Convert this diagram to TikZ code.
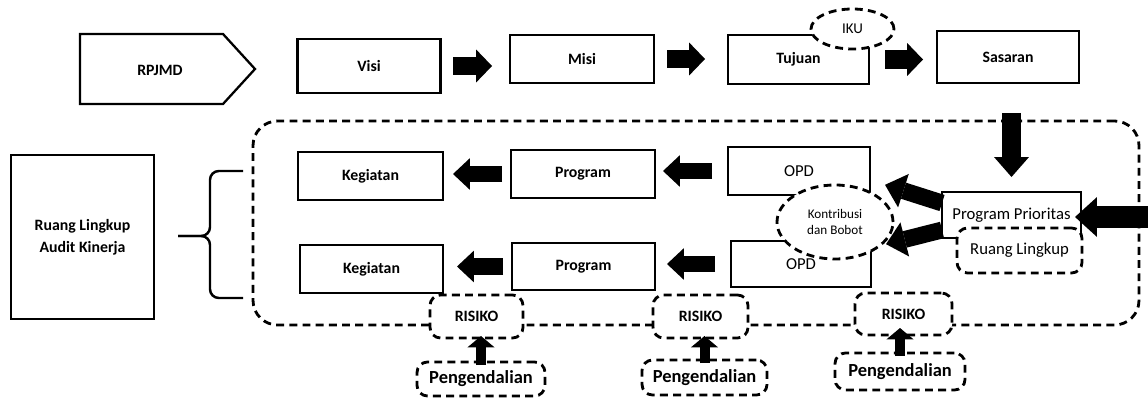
\documentclass[tikz,border=0pt]{standalone}
\usepackage{fontspec}
\setmainfont{Carlito}
\usetikzlibrary{arrows.meta,shapes.geometric}
\begin{document}
\begin{tikzpicture}[x=0.02cm,y=-0.02cm,
  every node/.style={inner sep=1pt, outer sep=0pt, align=center, font=\fontsize{9.5}{11}\selectfont},
  bf/.style={font=\fontsize{9}{10}\selectfont\bfseries},
  box/.style={draw, line width=1.3pt, fill=white},
  dashline/.style={line width=1.6pt, dash pattern=on 4.5pt off 3pt},
  dbox/.style={draw, dashline, fill=white, rounded corners=6pt},
  dell/.style={ellipse, draw, dashline, fill=white},
  wh/.style 2 args={minimum width=#1*0.02cm, minimum height=#2*0.02cm},
  barrow/.style n args={3}{line width=#1, -{Triangle[width=#2,length=#3,line width=0pt]}},
  harrow/.style={barrow={10.8pt}{18.7pt}{9pt}},
  marrow/.style={barrow={9.2pt}{18pt}{9.6pt}},
  darrow/.style={barrow={9.6pt}{20pt}{11pt}},
  vdarrow/.style={barrow={11.3pt}{19.8pt}{11.3pt}},
  rarrow/.style={barrow={12.5pt}{22.7pt}{12.5pt}},
  uarrow/.style={barrow={5.7pt}{15.5pt}{6.5pt}},
  pengf/.style={font=\fontsize{10.5}{12}\selectfont\bfseries},
]
\fill[white] (0,0) rectangle (1148,398);
\useasboundingbox (0,0) rectangle (1148,398);

% container
\node[draw, dashline, rounded corners=14pt, wh={886}{204}] (area) at (696,223) {};

% top row
\draw[line width=1.3pt] (80,34) -- (223,34) -- (255,69) -- (223,104) -- (80,104) -- cycle;
\node[bf] (rpjmd) at (160,70) {RPJMD};
\node[box,bf,wh={143}{54}] (visi) at (369,66) {Visi};
\node[box,bf,wh={144}{48}] (misi) at (582,59) {Misi};
\node[box,bf,wh={141}{49}] (tujuan) at (798.5,59.5) {Tujuan};
\node[dell,wh={83}{40},inner sep=0pt,font=\fontsize{8.5}{9}\selectfont] (iku) at (852.5,29) {IKU};
\node[box,bf,wh={142}{52}] (sasaran) at (1008,57) {Sasaran};

\draw[harrow, shorten <=0.25cm, shorten >=0.36cm] (visi.east) -- (visi.east -| misi.west);
\draw[harrow, shorten <=0.26cm, shorten >=0.46cm] (misi.east) -- (misi.east -| tujuan.west);
\draw[harrow, shorten <=0.32cm, shorten >=0.28cm] (tujuan.east) -- (tujuan.east -| sasaran.west);

% left
\node[box,wh={143}{164},font=\fontsize{9}{12.5}\selectfont\bfseries] (audit) at (82.5,237) {Ruang Lingkup\\Audit Kinerja};
\draw[line width=1.4pt, rounded corners=5pt] (243,171) -- (210,171) -- (210,236) -- (178,236);
\draw[line width=1.4pt, rounded corners=5pt] (243,298) -- (210,298) -- (210,236) -- (178,236);

% middle rows
\node[box,bf,wh={145}{48}] (keg1) at (370.5,176) {Kegiatan};
\node[box,bf,wh={144}{48}] (prog1) at (583,174) {Program};
\node[box,wh={142}{48}] (opd1) at (799,171) {OPD};
\node[box,bf,wh={143}{48}] (keg2) at (371.5,269) {Kegiatan};
\node[box,bf,wh={143}{47}] (prog2) at (583.5,266.5) {Program};
\node[box,wh={140}{46}] (opd2) at (801,264) {OPD};
\node[dell,wh={116}{74},inner sep=0pt,font=\fontsize{7.5}{9}\selectfont] (kontrib) at (835,222) {Kontribusi\\dan Bobot};

\node[box,wh={139}{46}] (pp) at (1011.5,215) {Program Prioritas};
\node[dbox,wh={125}{45}] (rl) at (1019.5,250.5) {Ruang Lingkup};

\draw[marrow, shorten <=0.18cm, shorten >=0.2cm] (prog1.west) -- (prog1.west -| keg1.east);
\draw[marrow, shorten <=0.32cm, shorten >=0.16cm] (opd1.west) -- (opd1.west -| prog1.east);
\draw[marrow, shorten <=0.18cm, shorten >=0.28cm] (prog2.west) -- (prog2.west -| keg2.east);
\draw[marrow, shorten <=0.32cm, shorten >=0.24cm] (opd2.west) -- (opd2.west -| prog2.east);

\draw[darrow] ([yshift=0.24cm]pp.west) -- ([xshift=0.18cm,yshift=0.22cm]kontrib.north east);
\draw[darrow] ([yshift=-0.3cm]pp.west) -- ([xshift=0.2cm,yshift=0.08cm]kontrib.south east);
\draw[vdarrow, shorten <=0.6cm, shorten >=0.3cm] (sasaran.south -| pp.north) -- (pp.north);
\coordinate (rin) at (1150,217);
\draw[rarrow] (rin) -- ([xshift=-0.12cm,yshift=-0.04cm]pp.east);

% bottom
\node[dbox,bf,wh={93}{43}] (ris1) at (476.5,316.5) {RISIKO};
\node[dbox,bf,wh={95}{43}] (ris2) at (700.5,316.5) {RISIKO};
\node[dbox,bf,wh={97}{42}] (ris3) at (903.5,314) {RISIKO};
\node[dbox,pengf,wh={128}{34}] (peng1) at (481,379) {Pengendalian};
\node[dbox,pengf,wh={125}{35}] (peng2) at (704.5,377.5) {Pengendalian};
\node[dbox,pengf,wh={130}{37}] (peng3) at (900,371.5) {Pengendalian};

\draw[uarrow, shorten <=-0.06cm, shorten >=-0.04cm] (peng1.north) -- (peng1.north |- ris1.south);
\draw[uarrow, shorten <=-0.06cm, shorten >=-0.04cm] (peng2.north) -- (peng2.north |- ris2.south);
\draw[uarrow, shorten <=-0.06cm, shorten >=-0.14cm] (peng3.north) -- (peng3.north |- ris3.south);
\end{tikzpicture}
\end{document}
